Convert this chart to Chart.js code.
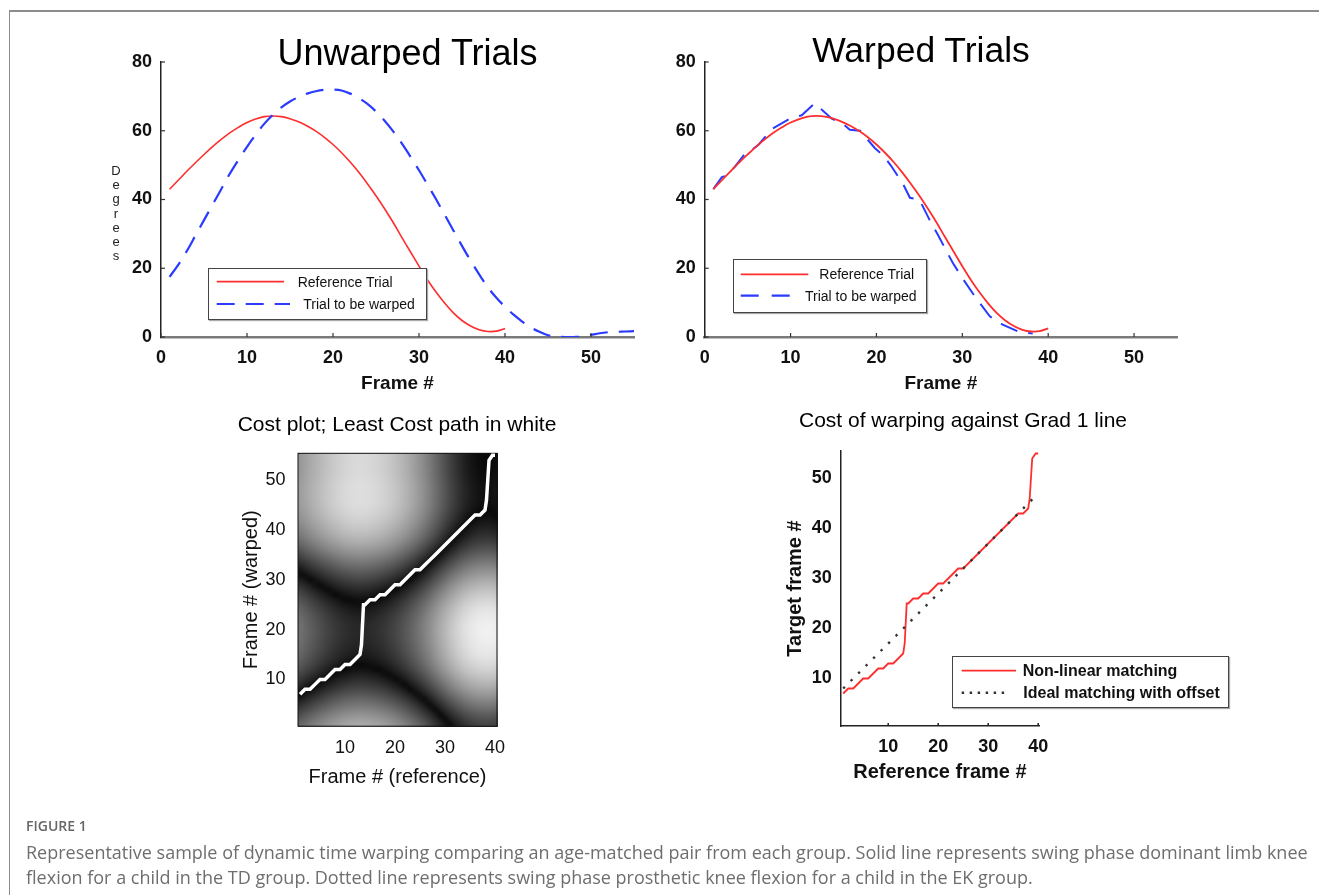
<!DOCTYPE html>
<html><head><meta charset="utf-8">
<script src="https://cdn.jsdelivr.net/npm/chart.js@4.4.1/dist/chart.umd.min.js"></script>
<style>
html,body{margin:0;padding:0;background:#fff;}
body{width:1319px;height:895px;overflow:hidden;position:relative;font-family:"Liberation Sans",Arial,sans-serif;}
.frame{position:absolute;left:9px;top:10px;width:1400px;height:1000px;border-left:1px solid #8c8c8c;border-top:2px solid #8c8c8c;}
canvas{position:absolute;}
.t{position:absolute;white-space:nowrap;color:#000;line-height:1;transform:translateX(-50%);}
.lg{position:absolute;border:1.5px solid #444;box-shadow:1px 1px 1px #aaa;background:#fff;}
.lt{position:absolute;white-space:nowrap;line-height:1;color:#111;}
.deg{position:absolute;left:110px;top:163.7px;width:12px;text-align:center;font-size:13px;line-height:14.3px;color:#222;}
.caph{position:absolute;left:26px;top:817px;font-family:"Open Sans",sans-serif;font-size:14px;font-weight:600;color:#666;line-height:18px;}
.cap{position:absolute;left:26px;top:840px;font-family:"Open Sans",sans-serif;font-size:18px;color:#6e6e6e;line-height:25px;white-space:nowrap;}
svg{position:absolute;left:0;top:0;overflow:visible;}
</style></head>
<body>
<div class="frame"></div>
<canvas id="c1"></canvas>
<canvas id="c2"></canvas>
<canvas id="c3"></canvas>
<canvas id="c4"></canvas>
<div class="t" style="left:407.5px;top:35px;font-size:36px;">Unwarped Trials</div>
<div class="t" style="left:921px;top:33px;font-size:35.5px;">Warped Trials</div>
<div class="t" style="left:397px;top:413px;font-size:21px;">Cost plot; Least Cost path in white</div>
<div class="t" style="left:963px;top:409px;font-size:21px;">Cost of warping against Grad 1 line</div>
<div class="deg">D<br>e<br>g<br>r<br>e<br>e<br>s</div>
<div id="legends"></div>
<div class="caph">FIGURE 1</div>
<div class="cap">Representative sample of dynamic time warping comparing an age-matched pair from each group. Solid line represents swing phase dominant limb knee<br>flexion for a child in the TD group. Dotted line represents swing phase prosthetic knee flexion for a child in the EK group.</div>
<script>
// ---------- data ----------
const refFrames = [1,2,3,4,5,6,7,8,9,10,11,12,13,14,15,16,17,18,19,20,21,22,23,24,25,26,27,28,29,30,31,32,33,34,35,36,37,38,39,40];
const refDegrees = [43,45.6,48.2,50.7,53.1,55.4,57.5,59.4,61,62.4,63.4,64.1,64.3,64.1,63.5,62.6,61.4,59.9,58.1,56,53.6,50.9,47.9,44.6,41.1,37.3,33.3,29,24.8,20.6,16.6,13,9.8,7,4.8,3.2,2.1,1.6,1.7,2.5];
const warpFrames = [1,2,3,4,5,6,7,8,9,10,11,12,13,14,15,16,17,18,19,20,21,22,23,24,25,26,27,28,29,30,31,32,33,34,35,36,37,38,39,40,41,42,43,44,45,46,47,48,49,50,51,52,53,54,55];
const warpDegrees = [17.5,21,25,29.5,34,38.5,43,47.5,51.5,55.3,58.8,62,64.6,66.8,68.5,69.8,70.8,71.5,71.9,72,71.7,70.8,69.5,67.8,65.6,62.9,59.8,56.3,52.5,48.5,44.3,40,35.5,31,26.5,22.2,18.2,14.5,11.4,8.8,6.5,4.5,2.8,1.5,0.5,0.1,0,0,0.1,0.6,1.1,1.4,1.5,1.6,1.7];
const warpedFrames = [1,2,2.6,3.5,4.9,5.5,6.3,7.8,9.9,11.3,12.8,14.8,16.1,16.9,18.1,19.8,20.8,21.7,23.1,23.9,25,26.2,27.2,28.9,30.1,31.4,33.2,34.7,36.5,38.2];
const warpedDegrees = [43,46.5,47,49.5,54,54.5,56,60.5,63.5,64.5,68,63.5,62,60.3,60,55,52.8,49.8,44.5,40.5,40,34,29.5,21.5,16.8,12,6,3.6,1.6,1];
const pathRef =    [1,2,3,4,5,6,7,8,9,10,11,12,13,13.3,13.7,14,15,16,17,18,19,20,21,22,23,24,25,26,27,28,29,30,31,32,33,34,35,36,37,38,38.3,38.8,39.5,40];
const pathTarget = [7,8,8,9,10,10,11,12,12,13,13,14,15,17,25,25,26,26,27,27,28,29,29,30,31,32,32,33,34,35,36,37,38,39,40,41,42,43,43,44,46,54,55,55];
const idealRef = [1,39];
const idealTarget = [8,46];
const trialXTicks = [0,10,20,30,40,50];
const trialYTicks = [0,20,40,60,80];
const pathXTicks = [10,20,30,40];
const pathYTicks = [10,20,30,40,50];

// ---------- helpers ----------
const RED = '#ff2e2e', BLUE = '#2a3bff';
const pts = (xs, ys) => xs.map((x, i) => ({x: x, y: ys[i]}));
Chart.defaults.font.family = '"Liberation Sans", Arial, sans-serif';
Chart.defaults.color = '#111';

const innerTicks = {
  id: 'innerTicks',
  afterDatasetsDraw(chart, args, o) {
    if (!o || !o.len) return;
    const {ctx, chartArea: a, scales: {x, y}} = chart;
    ctx.save(); ctx.strokeStyle = o.color || '#222'; ctx.lineWidth = o.width || 1.2;
    if (o.x) x.ticks.forEach(t => { const p = x.getPixelForValue(t.value); ctx.beginPath(); ctx.moveTo(p, a.bottom); ctx.lineTo(p, a.bottom - o.len); ctx.stroke(); });
    if (o.y) y.ticks.forEach(t => { const p = y.getPixelForValue(t.value); ctx.beginPath(); ctx.moveTo(a.left, p); ctx.lineTo(a.left + o.len, p); ctx.stroke(); });
    ctx.restore();
  }
};

const heatPlugin = {
  id: 'heat',
  beforeDatasetsDraw(chart) {
    const {ctx, scales: {x, y}} = chart;
    const W = refFrames.length, H = warpFrames.length;
    let max = 0;
    const cost = [];
    for (let j = 0; j < H; j++) { cost[j] = []; for (let i = 0; i < W; i++) { const c = Math.abs(refDegrees[i] - warpDegrees[j]); cost[j][i] = c; if (c > max) max = c; } }
    const off = document.createElement('canvas'); off.width = W; off.height = H;
    const o = off.getContext('2d'); const img = o.createImageData(W, H);
    for (let j = 0; j < H; j++) for (let i = 0; i < W; i++) {
      const g = Math.round(8 + 232 * Math.pow(cost[j][i] / max, 0.9));
      const k = ((H - 1 - j) * W + i) * 4;
      img.data[k] = g; img.data[k+1] = g; img.data[k+2] = g; img.data[k+3] = 255;
    }
    o.putImageData(img, 0, 0);
    const x0 = x.getPixelForValue(refFrames[0] - 0.5), x1 = x.getPixelForValue(refFrames[W-1] + 0.5);
    const y0 = y.getPixelForValue(warpFrames[H-1] + 0.5), y1 = y.getPixelForValue(warpFrames[0] - 0.5);
    ctx.save(); ctx.imageSmoothingEnabled = true; ctx.imageSmoothingQuality = 'high';
    ctx.drawImage(off, x0, y0, x1 - x0, y1 - y0);
    ctx.strokeStyle = '#111'; ctx.lineWidth = 1; ctx.strokeRect(x0 + 0.5, y0 + 0.5, x1 - x0 - 1, y1 - y0 - 1);
    ctx.restore();
  }
};

function makeChart(id, box, area, datasets, scales, plugins, pluginOpts) {
  const c = document.getElementById(id);
  c.width = box.w; c.height = box.h;
  c.style.left = box.l + 'px'; c.style.top = box.t + 'px';
  c.style.width = box.w + 'px'; c.style.height = box.h + 'px';
  const yW = area.l - box.l, xH = (box.t + box.h) - area.b;
  scales.x.afterFit = s => { s.height = xH; };
  scales.y.afterFit = s => { s.width = yW; };
  return new Chart(c, {
    type: 'scatter',
    data: {datasets},
    options: {
      responsive: false, animation: false, devicePixelRatio: 1,
      layout: {padding: {left: 0, bottom: 0, top: area.t - box.t, right: (box.l + box.w) - area.r}},
      plugins: Object.assign({legend: {display: false}, tooltip: {enabled: false}, title: {display: false}}, pluginOpts || {}),
      scales
    },
    plugins: plugins || []
  });
}

function linAxis(min, max, ticksArr, o) {
  return {
    type: 'linear', min, max,
    afterBuildTicks: s => { s.ticks = ticksArr.map(v => ({value: v})); },
    grid: {display: false, drawTicks: false},
    border: o.border || {display: false},
    ticks: {padding: o.pad, font: o.font, color: '#111', maxRotation: 0, autoSkip: false},
    title: o.title ? {display: true, text: o.title, font: o.tfont, color: '#111', padding: o.tpad} : {display: false}
  };
}

const lineDs = (data, color, width, dash, tension) => ({
  data, showLine: true, borderColor: color, borderWidth: width, borderDash: dash || [],
  pointRadius: 0, fill: false, tension: tension || 0, borderCapStyle: 'butt'
});

// ---------- top-left: unwarped ----------
const tickFontTop = {size: 18, weight: 'bold'};
makeChart('c1', {l: 100, t: 40, w: 560, h: 370}, {l: 161, r: 634, t: 62, b: 337},
  [lineDs(pts(warpFrames, warpDegrees), BLUE, 2.2, [18, 11], 0.35),
   lineDs(pts(refFrames, refDegrees), RED, 1.6, [], 0.35)],
  {
    x: linAxis(0, 55, trialXTicks, {pad: 10, font: tickFontTop, border: {display: true, color: '#7a7a7a', width: 2.5}, title: 'Frame #', tfont: {size: 19, weight: 'bold'}, tpad: {top: 0, bottom: 15}}),
    y: linAxis(0, 80, trialYTicks, {pad: 9, font: tickFontTop, border: {display: true, color: '#222', width: 1.5}})
  }, [innerTicks], {innerTicks: {len: 4, x: true, y: true, color: '#333', width: 1.2}});

// ---------- top-right: warped ----------
makeChart('c2', {l: 640, t: 40, w: 560, h: 370}, {l: 704.7, r: 1177, t: 62, b: 337},
  [lineDs(pts(refFrames, refDegrees), RED, 1.8, [], 0.35),
   lineDs(pts(warpedFrames, warpedDegrees), BLUE, 2, [18, 11], 0)],
  {
    x: linAxis(0, 55, trialXTicks, {pad: 10, font: tickFontTop, border: {display: true, color: '#7a7a7a', width: 2.5}, title: 'Frame #', tfont: {size: 19, weight: 'bold'}, tpad: {top: 0, bottom: 15}}),
    y: linAxis(0, 80, trialYTicks, {pad: 9, font: tickFontTop, border: {display: true, color: '#222', width: 1.5}})
  }, [innerTicks], {innerTicks: {len: 4, x: true, y: true, color: '#333', width: 1.2}});

// ---------- bottom-left: cost heatmap ----------
makeChart('c3', {l: 220, t: 430, w: 300, h: 370}, {l: 297.5, r: 497.5, t: 450, b: 726.7},
  [lineDs(pts(pathRef, pathTarget), '#ffffff', 3.5, [], 0)],
  {
    x: linAxis(0.5, 40.5, pathXTicks, {pad: 11, font: {size: 18}, title: 'Frame # (reference)', tfont: {size: 20}, tpad: {top: 0, bottom: 11}}),
    y: linAxis(0.5, 55.5, pathYTicks, {pad: 12, font: {size: 18}, title: 'Frame # (warped)', tfont: {size: 20}, tpad: {top: 19, bottom: 0}})
  }, [heatPlugin]);

// ---------- bottom-right: path vs ideal ----------
makeChart('c4', {l: 760, t: 430, w: 490, h: 370}, {l: 840.7, r: 1039.2, t: 451, b: 726},
  [lineDs(pts(idealRef, idealTarget), '#333333', 2.4, [2.4, 8.2], 0),
   lineDs(pts(pathRef, pathTarget), RED, 1.8, [], 0)],
  {
    x: linAxis(0.5, 40.2, pathXTicks, {pad: 10, font: {size: 18, weight: 'bold'}, border: {display: true, color: '#222', width: 1.5}, title: 'Reference frame #', tfont: {size: 20, weight: 'bold'}, tpad: {top: 0, bottom: 16}}),
    y: linAxis(0.5, 55.5, pathYTicks, {pad: 9, font: {size: 18, weight: 'bold'}, border: {display: true, color: '#222', width: 1.5}, title: 'Target frame #', tfont: {size: 20, weight: 'bold'}, tpad: {top: 23, bottom: 0}})
  }, [innerTicks], {innerTicks: {len: 3, x: true, y: false, color: '#222', width: 1.5}});

// ---------- legends (HTML, real text) ----------
function legend(box, items, fontCss) {
  const host = document.getElementById('legends');
  const d = document.createElement('div'); d.className = 'lg';
  d.style.left = box.l + 'px'; d.style.top = box.t + 'px';
  d.style.width = (box.r - box.l) + 'px'; d.style.height = (box.b - box.t) + 'px';
  host.appendChild(d);
  const ns = 'http://www.w3.org/2000/svg';
  const svg = document.createElementNS(ns, 'svg');
  svg.setAttribute('width', 1319); svg.setAttribute('height', 895);
  items.forEach(it => {
    const ln = document.createElementNS(ns, 'line');
    ln.setAttribute('x1', it.x1); ln.setAttribute('x2', it.x2); ln.setAttribute('y1', it.y); ln.setAttribute('y2', it.y);
    ln.setAttribute('stroke', it.color); ln.setAttribute('stroke-width', it.w);
    if (it.dash) ln.setAttribute('stroke-dasharray', it.dash);
    svg.appendChild(ln);
    const s = document.createElement('div'); s.className = 'lt';
    s.style.cssText += fontCss; s.style.left = it.tx + 'px';
    const fs = parseFloat(fontCss.match(/font-size:\s*([\d.]+)/)[1]);
    s.style.top = (it.y - fs / 2) + 'px';
    s.textContent = it.text;
    host.appendChild(s);
  });
  host.appendChild(svg);
}
legend({l: 208, t: 268, r: 425, b: 318}, [
  {x1: 216.7, x2: 284, y: 281.7, color: RED, w: 1.8, tx: 297.7, text: 'Reference Trial'},
  {x1: 216.7, x2: 290, y: 304, color: BLUE, w: 2.2, dash: '18 11', tx: 303.3, text: 'Trial to be warped'}
], 'font-size:14px;');
legend({l: 732.7, t: 259.3, r: 925.3, b: 310.7}, [
  {x1: 740.7, x2: 808.3, y: 274.3, color: RED, w: 1.8, tx: 819.3, text: 'Reference Trial'},
  {x1: 740.7, x2: 790, y: 295.7, color: BLUE, w: 2.2, dash: '18 13', tx: 805, text: 'Trial to be warped'}
], 'font-size:14px;');
legend({l: 952.3, t: 656, r: 1227.3, b: 706}, [
  {x1: 961.7, x2: 1016, y: 670.7, color: RED, w: 1.8, tx: 1022.7, text: 'Non-linear matching'},
  {x1: 961.7, x2: 1007, y: 692.7, color: '#333', w: 2.4, dash: '2.4 5.6', tx: 1023.3, text: 'Ideal matching with offset'}
], 'font-size:16px;font-weight:bold;');
</script>
</body></html>
